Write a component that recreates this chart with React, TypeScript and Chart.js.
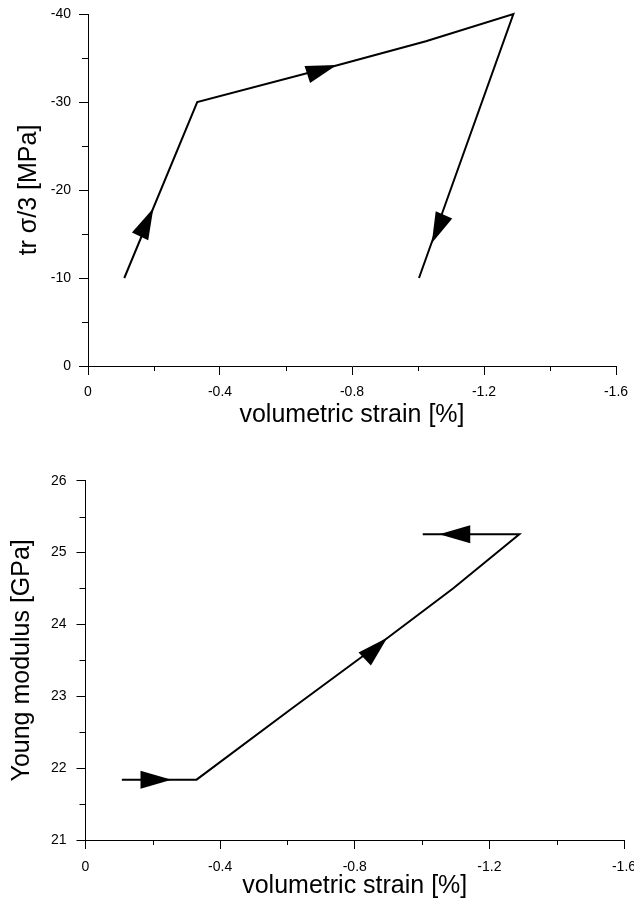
import React, { useEffect, useRef } from 'react';
import { Chart, registerables } from 'chart.js';

Chart.register(...registerables);

const FONT = '"Liberation Sans", Arial, Helvetica, sans-serif';

// ---------- shared x axis (volumetric strain, %) ----------
const strainTicks = [0, -0.4, -0.8, -1.2, -1.6];
const strainTickLabels = ['0', '-0.4', '-0.8', '-1.2', '-1.6'];
const strainMinorTicks = [-0.2, -0.6, -1.0, -1.4];

// ---------- top chart: tr σ/3 vs volumetric strain ----------
const strainTop = [-0.11, -0.331, -0.7585, -1.024, -1.289, -1.003];
const stressTop = [-10, -30, -34.2, -36.9, -40, -10];
const arrowTipStrainTop = [-0.198, -0.754, -1.0415];
const arrowTipStressTop = [-17.92, -34.2, -13.94];
const arrowTailStrainTop = [-0.158, -0.668, -1.077];
const arrowTailStressTop = [-14.75, -33.16, -17.02];
const stressTicks = [-40, -30, -20, -10, 0];
const stressTickLabels = ['-40', '-30', '-20', '-10', '0'];
const stressMinorTicks = [-35, -25, -15, -5];

// ---------- bottom chart: Young modulus vs volumetric strain ----------
const strainBottom = [-0.108, -0.33, -0.607, -0.895, -1.092, -1.289, -1.002];
const modulusBottom = [21.84, 21.84, 22.81, 23.805, 24.5, 25.256, 25.256];
const arrowTipStrainBottom = [-0.2556, -0.8966, -1.051];
const arrowTipModulusBottom = [21.84, 23.814, 25.256];
const arrowTailStrainBottom = [-0.159, -0.8317, -1.147];
const arrowTailModulusBottom = [21.84, 23.527, 25.256];
const modulusTicks = [21, 22, 23, 24, 25, 26];
const modulusTickLabels = ['21', '22', '23', '24', '25', '26'];
const modulusMinorTicks = [21.5, 22.5, 23.5, 24.5, 25.5];

type Cfg = {
  xs: number[];
  ys: number[];
  tipX: number[];
  tipY: number[];
  tailX: number[];
  tailY: number[];
  yMin: number;
  yMax: number;
  yReverse: boolean;
  yTicks: number[];
  yLabels: string[];
  yMinor: number[];
  yTitle: string;
  xTitle: string;
  padTop: number;
  padRight: number;
  yAxisWidth: number;
  xAxisHeight: number;
  xTitlePadBottom: number;
  yTitlePadTop: number;
  xTickPad: number;
  yTickPad: number;
};

const ARROW_LEN = 31;
const ARROW_HALF_W = 9;

function buildChart(canvas: HTMLCanvasElement, c: Cfg) {
  const minorPlugin = {
    id: 'minorTicks',
    afterDraw(chart: any) {
      const ctx = chart.ctx;
      const sx = chart.scales.x;
      const sy = chart.scales.y;
      ctx.save();
      ctx.strokeStyle = '#000';
      ctx.lineWidth = 1;
      ctx.beginPath();
      for (const v of strainMinorTicks) {
        const p = Math.round(sx.getPixelForValue(v)) + 0.5;
        ctx.moveTo(p, sx.top);
        ctx.lineTo(p, sx.top + 5);
      }
      for (const v of c.yMinor) {
        const p = Math.round(sy.getPixelForValue(v)) + 0.5;
        ctx.moveTo(sy.right, p);
        ctx.lineTo(sy.right - 6, p);
      }
      ctx.stroke();
      ctx.restore();
    },
  };

  const arrowPlugin = {
    id: 'arrowHeads',
    afterDatasetsDraw(chart: any) {
      const ctx = chart.ctx;
      const sx = chart.scales.x;
      const sy = chart.scales.y;
      ctx.save();
      ctx.fillStyle = '#000';
      for (let i = 0; i < c.tipX.length; i++) {
        const tx = sx.getPixelForValue(c.tipX[i]);
        const ty = sy.getPixelForValue(c.tipY[i]);
        const bx = sx.getPixelForValue(c.tailX[i]);
        const by = sy.getPixelForValue(c.tailY[i]);
        const dx = tx - bx;
        const dy = ty - by;
        const len = Math.hypot(dx, dy) || 1;
        const ux = dx / len;
        const uy = dy / len;
        const cx = tx - ux * ARROW_LEN;
        const cy = ty - uy * ARROW_LEN;
        ctx.beginPath();
        ctx.moveTo(tx, ty);
        ctx.lineTo(cx - uy * ARROW_HALF_W, cy + ux * ARROW_HALF_W);
        ctx.lineTo(cx + uy * ARROW_HALF_W, cy - ux * ARROW_HALF_W);
        ctx.closePath();
        ctx.fill();
      }
      ctx.restore();
    },
  };

  const points = c.xs.map((x, i) => ({ x, y: c.ys[i] }));

  return new Chart(canvas, {
    type: 'scatter',
    data: {
      datasets: [
        {
          data: points,
          showLine: true,
          borderColor: '#000',
          backgroundColor: '#000',
          borderWidth: 2,
          pointRadius: 0,
          pointHoverRadius: 0,
          tension: 0,
          clip: false,
          borderJoinStyle: 'miter',
        } as any,
      ],
    },
    options: {
      responsive: false,
      maintainAspectRatio: false,
      animation: false,
      events: [],
      layout: { padding: { top: c.padTop, right: c.padRight, bottom: 0, left: 0 } },
      plugins: {
        legend: { display: false },
        tooltip: { enabled: false },
        title: { display: false },
      },
      scales: {
        x: {
          type: 'linear',
          min: -1.6,
          max: 0,
          reverse: true,
          afterBuildTicks: (s: any) => {
            s.ticks = strainTicks.map((v) => ({ value: v }));
          },
          afterFit: (s: any) => {
            s.height = c.xAxisHeight;
            s.paddingLeft = 0;
            s.paddingRight = 0;
          },
          ticks: {
            callback: (_v: any, i: number) => strainTickLabels[i],
            color: '#000',
            font: { family: FONT, size: 14 },
            padding: c.xTickPad,
            autoSkip: false,
            maxRotation: 0,
            minRotation: 0,
          },
          grid: {
            display: true,
            drawOnChartArea: false,
            drawTicks: true,
            tickLength: 9,
            tickColor: '#000',
            tickWidth: 1,
          },
          border: { display: true, color: '#000', width: 1 },
          title: {
            display: true,
            text: c.xTitle,
            color: '#000',
            font: { family: FONT, size: 25 },
            padding: { top: 0, bottom: c.xTitlePadBottom },
          },
        } as any,
        y: {
          type: 'linear',
          min: c.yMin,
          max: c.yMax,
          reverse: c.yReverse,
          afterBuildTicks: (s: any) => {
            s.ticks = c.yTicks.map((v) => ({ value: v }));
          },
          afterFit: (s: any) => {
            s.width = c.yAxisWidth;
            s.paddingTop = 0;
            s.paddingBottom = 0;
          },
          ticks: {
            callback: (_v: any, i: number) => c.yLabels[i],
            color: '#000',
            font: { family: FONT, size: 14 },
            padding: c.yTickPad,
            autoSkip: false,
          },
          grid: {
            display: true,
            drawOnChartArea: false,
            drawTicks: true,
            tickLength: 9,
            tickColor: '#000',
            tickWidth: 1,
          },
          border: { display: true, color: '#000', width: 1 },
          title: {
            display: true,
            text: c.yTitle,
            color: '#000',
            font: { family: FONT, size: 25 },
            padding: { top: c.yTitlePadTop, bottom: 0 },
          },
        } as any,
      },
    },
    plugins: [minorPlugin, arrowPlugin],
  } as any);
}

export default function App() {
  const topRef = useRef<HTMLCanvasElement>(null);
  const botRef = useRef<HTMLCanvasElement>(null);

  useEffect(() => {
    const c1 = buildChart(topRef.current as HTMLCanvasElement, {
      xs: strainTop,
      ys: stressTop,
      tipX: arrowTipStrainTop,
      tipY: arrowTipStressTop,
      tailX: arrowTailStrainTop,
      tailY: arrowTailStressTop,
      yMin: -40,
      yMax: 0,
      yReverse: true,
      yTicks: stressTicks,
      yLabels: stressTickLabels,
      yMinor: stressMinorTicks,
      yTitle: 'tr σ/3 [MPa]',
      xTitle: 'volumetric strain [%]',
      padTop: 14,
      padRight: 18,
      yAxisWidth: 88,
      xAxisHeight: 84,
      xTitlePadBottom: 20,
      yTitlePadTop: 14,
      xTickPad: 9,
      yTickPad: 8,
    });
    const c2 = buildChart(botRef.current as HTMLCanvasElement, {
      xs: strainBottom,
      ys: modulusBottom,
      tipX: arrowTipStrainBottom,
      tipY: arrowTipModulusBottom,
      tailX: arrowTailStrainBottom,
      tailY: arrowTailModulusBottom,
      yMin: 21,
      yMax: 26,
      yReverse: false,
      yTicks: modulusTicks,
      yLabels: modulusTickLabels,
      yMinor: modulusMinorTicks,
      yTitle: 'Young modulus [GPa]',
      xTitle: 'volumetric strain [%]',
      padTop: 30.7,
      padRight: 10,
      yAxisWidth: 85.5,
      xAxisHeight: 67,
      xTitlePadBottom: 5.5,
      yTitlePadTop: 7.5,
      xTickPad: 10,
      yTickPad: 10,
    });
    return () => {
      c1.destroy();
      c2.destroy();
    };
  }, []);

  return (
    <div
      style={{
        position: 'absolute',
        left: 0,
        top: 0,
        width: 634,
        height: 907,
        overflow: 'hidden',
        background: '#fff',
      }}
    >
      <canvas ref={topRef} width={634} height={450} style={{ display: 'block', width: 634, height: 450 }} />
      <canvas ref={botRef} width={634} height={457} style={{ display: 'block', width: 634, height: 457 }} />
    </div>
  );
}
